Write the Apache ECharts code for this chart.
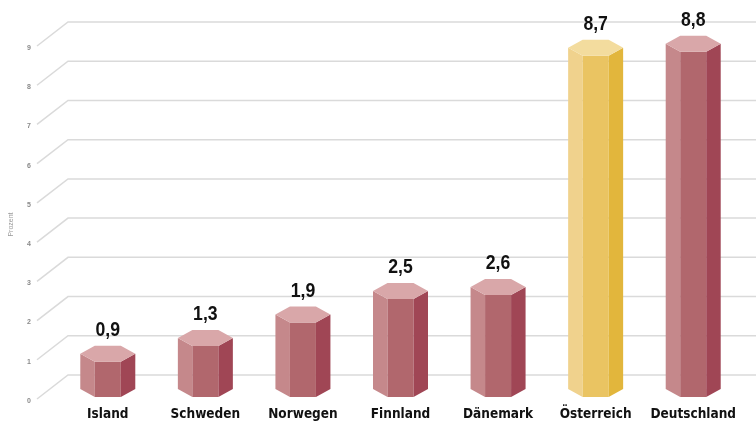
<!DOCTYPE html>
<html>
<head>
<meta charset="utf-8">
<script src="https://cdn.jsdelivr.net/npm/echarts@6/dist/echarts.min.js"></script>
<style>
html,body{margin:0;padding:0;background:#fff;}
#chart{width:756px;height:421px;}
</style>
</head>
<body>
<div id="chart"></div>
<script>
const categories = ['Island', 'Schweden', 'Norwegen', 'Finnland', 'Dänemark', 'Österreich', 'Deutschland'];
const values = [0.9, 1.3, 1.9, 2.5, 2.6, 8.7, 8.8];
const valueLabels = ['0,9', '1,3', '1,9', '2,5', '2,6', '8,7', '8,8'];
const highlight = [false, false, false, false, false, true, false];
const tickValues = [0, 1, 2, 3, 4, 5, 6, 7, 8, 9];
const axisName = 'Prozent';

const RED = {top: '#d9a7a9', left: '#c5888b', front: '#b1676d', right: '#a04655'};
const YEL = {top: '#f3dc9e', left: '#f0d28d', front: '#eac462', right: '#e2b63c'};
const CAT_FONT = '"DejaVu Sans Condensed", "Liberation Sans Narrow", Arial, sans-serif';

const chart = echarts.init(document.getElementById('chart'), null, {renderer: 'canvas'});

function renderBar(params, api) {
  const i = api.value(0);
  const v = api.value(1);
  const top = api.coord([i, v]);
  const base = api.coord([i, 0]);
  const cx = top[0];
  const yt = top[1] - 12;
  const yb = base[1] - 12;
  const W = 27.5, I = 13, d = 8;
  const c = highlight[i] ? YEL : RED;
  return {
    type: 'group',
    children: [
      {type: 'polygon', shape: {points: [[cx - W, yt], [cx - I, yt + d], [cx - I, yb + d], [cx - W, yb]]}, style: {fill: c.left}},
      {type: 'polygon', shape: {points: [[cx - I, yt + d], [cx + I, yt + d], [cx + I, yb + d], [cx - I, yb + d]]}, style: {fill: c.front}},
      {type: 'polygon', shape: {points: [[cx + I, yt + d], [cx + W, yt], [cx + W, yb], [cx + I, yb + d]]}, style: {fill: c.right}},
      {type: 'polygon', shape: {points: [[cx - W, yt], [cx - I, yt - d], [cx + I, yt - d], [cx + W, yt], [cx + I, yt + d], [cx - I, yt + d]]}, style: {fill: c.top}},
      {type: 'text', x: cx, y: yt - d - 5, scaleX: 0.84,
        style: {text: valueLabels[i], x: 0, y: 0, textAlign: 'center', textVerticalAlign: 'bottom',
          font: 'bold 21px "Liberation Sans", Arial, sans-serif', fill: '#111'}}
    ]
  };
}

function renderGrid(params, api) {
  const v = api.value(0);
  const p = api.coord([0, v]);
  const y = p[1];
  const w = api.getWidth();
  return {
    type: 'polyline',
    shape: {points: [[37, y - 2], [68, y - 26], [w, y - 26]]},
    style: {stroke: '#dadada', lineWidth: 1.5, fill: null}
  };
}

chart.setOption({
  animation: false,
  backgroundColor: '#ffffff',
  grid: {left: 56, right: 14, top: 48, bottom: 18},
  xAxis: {
    type: 'category',
    data: categories,
    axisLine: {show: false},
    axisTick: {show: false},
    axisLabel: {interval: 0, margin: 6, fontFamily: CAT_FONT, fontWeight: 'bold', fontSize: 13.5, color: '#111'}
  },
  yAxis: {
    type: 'value',
    min: 0, max: 9, interval: 1,
    name: axisName,
    nameLocation: 'middle',
    nameGap: 44,
    nameRotate: 90,
    nameTextStyle: {fontSize: 7, color: '#999', fontFamily: 'Arial'},
    axisLine: {show: false},
    axisTick: {show: false},
    splitLine: {show: false},
    axisLabel: {margin: 28, fontSize: 7, color: '#8a8a8a', fontWeight: 'bold'}
  },
  series: [
    {
      type: 'custom',
      renderItem: renderGrid,
      data: tickValues.map(t => [t]),
      encode: {y: 0},
      clip: false,
      z: 1,
      silent: true
    },
    {
      type: 'custom',
      renderItem: renderBar,
      data: values.map((v, i) => [i, v]),
      encode: {x: 0, y: 1},
      clip: false,
      z: 5
    }
  ]
});
</script>
</body>
</html>
